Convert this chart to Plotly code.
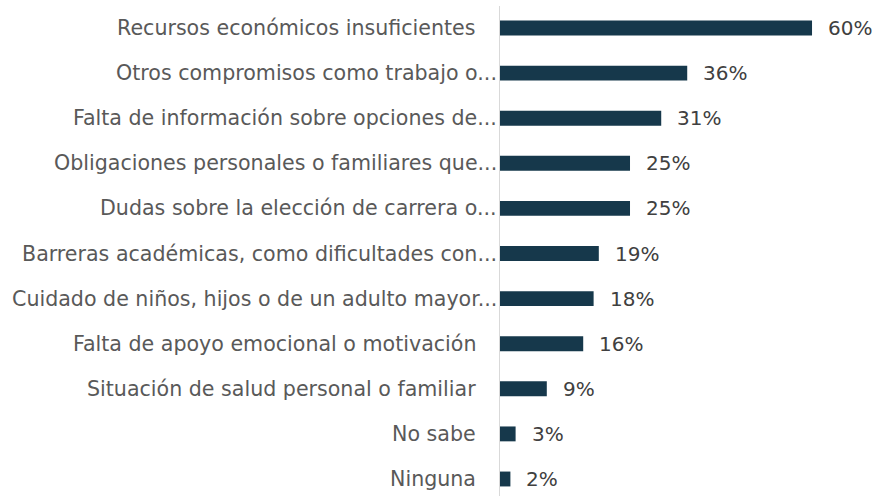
import plotly.graph_objects as go

categories = [
    "Recursos económicos insuficientes",
    "Otros compromisos como trabajo o...",
    "Falta de información sobre opciones de...",
    "Obligaciones personales o familiares que...",
    "Dudas sobre la elección de carrera o...",
    "Barreras académicas, como dificultades con...",
    "Cuidado de niños, hijos o de un adulto mayor...",
    "Falta de apoyo emocional o motivación",
    "Situación de salud personal o familiar",
    "No sabe",
    "Ninguna",
]
values = [60, 36, 31, 25, 25, 19, 18, 16, 9, 3, 2]

BAR = "#16384B"
FONT = "DejaVu Sans"

fig = go.Figure(go.Bar(
    x=values, y=categories, orientation="h",
    marker=dict(color=BAR, line=dict(width=0)),
    width=0.33, hoverinfo="skip",
))

annotations = []
for c, v in zip(categories, values):
    truncated = c.endswith("...")
    annotations.append(dict(
        x=0, y=c, xref="x", yref="y", text=c, showarrow=False,
        xanchor="right", yanchor="middle", xshift=-1 if truncated else -22,
        font=dict(family=FONT, size=20.6, color="#595959"),
    ))
    annotations.append(dict(
        x=v, y=c, xref="x", yref="y", text=f"{v}%", showarrow=False,
        xanchor="left", yanchor="middle", xshift=14,
        font=dict(family=FONT, size=20, color="#404040"),
    ))

fig.update_layout(
    width=876, height=496,
    margin=dict(l=500, r=0, t=6, b=0),
    paper_bgcolor="white", plot_bgcolor="white",
    showlegend=False,
    hovermode=False,
    annotations=annotations,
    xaxis=dict(range=[0, 72.3], visible=False, fixedrange=True),
    yaxis=dict(
        categoryorder="array", categoryarray=categories, fixedrange=True,
        range=[10.377, -0.488], showticklabels=False, ticks="",
        showgrid=False, zeroline=False,
        showline=True, linecolor="#D9D9D9", linewidth=1.5,
    ),
)

fig.write_html(
    "out.html",
    config={"displayModeBar": False, "staticPlot": True},
    post_script="document.body.style.margin='0';document.body.style.overflow='hidden';",
)
